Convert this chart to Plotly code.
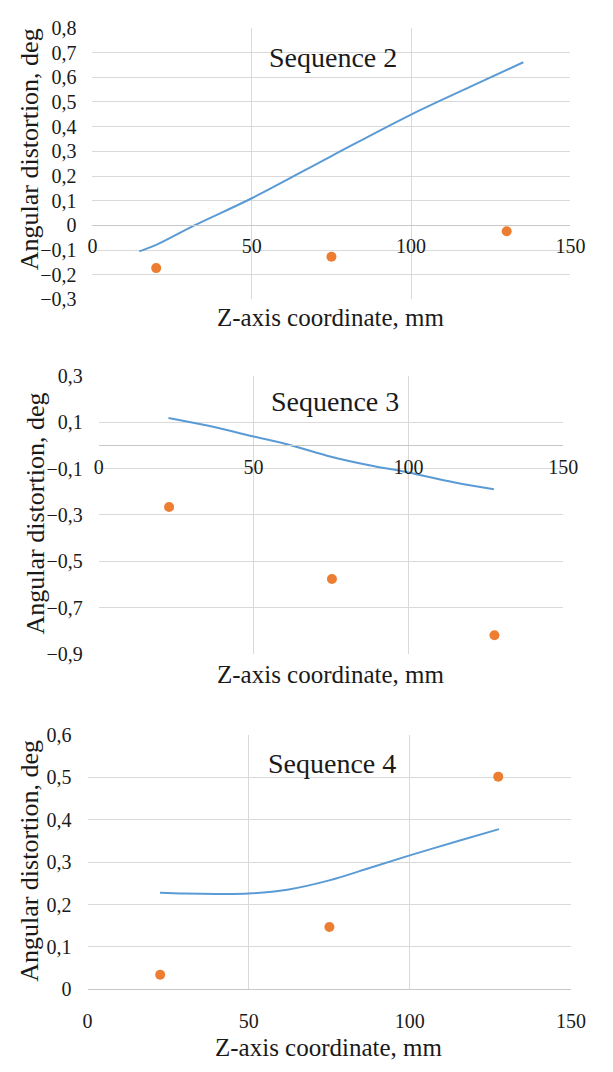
import plotly.graph_objects as go

W, H = 613, 1072

# ---- data ----
seq2_line_x = [14.7, 20, 32, 50, 75, 100, 120, 135.2]
seq2_line_y = [-0.105, -0.079, 0.0, 0.11, 0.281, 0.449, 0.570, 0.661]
seq2_pts_x = [20.0, 75.0, 130.0]
seq2_pts_y = [-0.173, -0.127, -0.024]

seq3_line_x = [22.5, 35, 50, 62, 75, 87, 100, 115, 127.6]
seq3_line_y = [0.118, 0.085, 0.038, 0.0, -0.049, -0.085, -0.117, -0.160, -0.189]
seq3_pts_x = [22.7, 75.3, 127.8]
seq3_pts_y = [-0.266, -0.576, -0.818]

seq4_line_x = [22.5, 30, 40, 50, 62, 75, 87, 100, 115, 127.7]
seq4_line_y = [0.228, 0.226, 0.225, 0.226, 0.235, 0.257, 0.285, 0.316, 0.350, 0.378]
seq4_pts_x = [22.55, 75.06, 127.45]
seq4_pts_y = [0.034, 0.147, 0.502]

titles = ["Sequence 2", "Sequence 3", "Sequence 4"]
x_title = "Z-axis coordinate, mm"
y_title = "Angular distortion, deg"
y_ranges = [(-0.3, 0.8), (-0.9, 0.3), (0.0, 0.6)]
y_dticks = [0.1, 0.2, 0.1]
x_range = (0, 150)

# ---- layout geometry (pixels) ----
panels = [
    dict(x0=90.4, x1=584.5, y0=17.3, y1=294.5, title_y=47, xt_y=313, yt_x=25.5, yt_y=141.5, seq_x=339),
    dict(x0=97.0, x1=577.0, y0=372.3, y1=656.7, title_y=399, xt_y=677, yt_x=32, yt_y=513, seq_x=341),
    dict(x0=85.3, x1=585.0, y0=739.3, y1=998.7, title_y=768, xt_y=1058, yt_x=25.5, yt_y=868, seq_x=338),
]
standoffs = [3, 4, 14]

FONT = "Liberation Serif, Times New Roman, Tinos, serif"
BLUE = "#5B9BD5"
ORANGE = "#ED7D31"
GRID = "#d9d9d9"
TXT = "#1a1a1a"

def px(x):
    return x / W

def py(y):
    return 1 - y / H

fig = go.Figure()
data = [
    (seq2_line_x, seq2_line_y, seq2_pts_x, seq2_pts_y),
    (seq3_line_x, seq3_line_y, seq3_pts_x, seq3_pts_y),
    (seq4_line_x, seq4_line_y, seq4_pts_x, seq4_pts_y),
]

annotations = []
for i, (p, (lx, ly, sx, sy)) in enumerate(zip(panels, data)):
    n = "" if i == 0 else str(i + 1)
    xa, ya = "x" + n, "y" + n
    fig.add_trace(go.Scatter(x=lx, y=ly, mode="lines", line=dict(color=BLUE, width=2, shape="spline"),
                             xaxis=xa, yaxis=ya, showlegend=False, hoverinfo="skip"))
    fig.add_trace(go.Scatter(x=sx, y=sy, mode="markers", marker=dict(color=ORANGE, size=10),
                             xaxis=xa, yaxis=ya, showlegend=False))
    ymin, ymax = y_ranges[i]
    ydom = [py(p["y1"]), py(p["y0"])]
    # paper position of y = 0
    zero_pos = ydom[0] + (0 - ymin) / (ymax - ymin) * (ydom[1] - ydom[0])
    fig.layout["xaxis" + n] = dict(
        domain=[px(p["x0"]), px(p["x1"])], range=list(x_range), dtick=50, tick0=0,
        anchor="free", position=zero_pos, showline=True, linecolor="#c8c8c8", linewidth=1,
        showgrid=True, gridcolor=GRID, gridwidth=1, zeroline=False, ticks="",
        ticklabelstandoff=standoffs[i],
        tickfont=dict(family=FONT, size=20, color=TXT), fixedrange=True,
    )
    fig.layout["yaxis" + n] = dict(
        domain=ydom, range=[ymin, ymax], dtick=y_dticks[i], tick0=ymin, anchor=xa,
        showgrid=True, gridcolor=GRID, gridwidth=1, zeroline=False, showline=False, ticks="",
        ticklabelstandoff=15,
        tickfont=dict(family=FONT, size=20, color=TXT), fixedrange=True,
    )
    annotations.append(dict(text=titles[i], x=px(p["seq_x"]), y=py(p["title_y"]), xref="paper", yref="paper",
                            showarrow=False, xanchor="center", yanchor="middle",
                            font=dict(family=FONT, size=28, color=TXT)))
    annotations.append(dict(text=x_title, x=px((p["x0"] + p["x1"]) / 2), y=py(p["xt_y"]), xref="paper", yref="paper",
                            showarrow=False, xanchor="center", yanchor="middle",
                            font=dict(family=FONT, size=25, color=TXT)))
    annotations.append(dict(text=y_title, x=px(p["yt_x"]), y=py(p["yt_y"]), xref="paper", yref="paper",
                            showarrow=False, xanchor="center", yanchor="middle", textangle=-90,
                            font=dict(family=FONT, size=26, color=TXT)))

fig.update_layout(
    width=W, height=H, margin=dict(l=0, r=0, t=0, b=0),
    paper_bgcolor="white", plot_bgcolor="white",
    font=dict(family=FONT, color=TXT),
    separators=", ", annotations=annotations, showlegend=False,
)

fig.write_html("out.html", config={"displayModeBar": False})
